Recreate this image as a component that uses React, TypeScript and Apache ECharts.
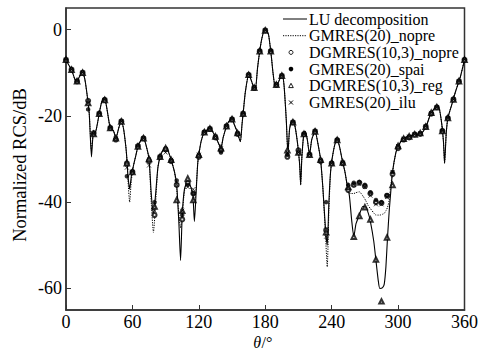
import React, { useEffect, useRef } from "react";
import * as echarts from "echarts";

const SERIES_NAMES = [
  "LU decomposition",
  "GMRES(20)_nopre",
  "DGMRES(10,3)_nopre",
  "GMRES(20)_spai",
  "DGMRES(10,3)_reg",
  "GMRES(20)_ilu",
];

const X_TICKS = [0, 60, 120, 180, 240, 300, 360];
const Y_TICKS = [-60, -40, -20, 0];

const LU_THETA = [
  0, 2, 5, 8, 10, 12, 15, 17, 19, 21,
  23, 24.5, 27, 30, 32, 34, 36, 38, 40, 43,
  45, 48, 50, 52, 54, 55, 56, 57.5, 59, 61,
  63, 65, 68, 70, 72, 75, 77, 79, 81, 83,
  85, 87.5, 90, 92, 95, 98, 100, 102, 103.5, 105,
  107, 110, 112, 114.5, 116, 117.5, 119, 120, 122, 124.5,
  127, 130, 132, 135, 138, 140, 142, 145.5, 148, 150,
  152, 154.5, 157.5, 159, 160.5, 162, 165, 167, 169, 171,
  173, 175, 177, 179.5, 181, 183, 185.5, 187, 189, 191.5,
  194, 195.5, 197, 199, 200.5, 202, 204, 206.5, 209, 211,
  212, 213, 214.5, 216, 218, 220, 222, 225, 228, 230,
  232, 234.5, 236, 237.5, 239, 240.5, 243, 245, 247, 249.5,
  252, 254, 256, 258, 260, 262, 265, 268, 270.5, 273,
  275, 278, 280, 282, 283.5, 286, 287.5, 289, 290.5, 292,
  293, 295, 298, 300.5, 304, 306.5, 310, 314, 318, 322,
  326, 329, 333, 336.5, 339, 341, 342, 343.5, 345, 348.5,
  352, 356, 360,
];

const LU_DB = [
  -7, -8, -9.3, -11.5, -12, -11, -10, -11.5, -15, -19.5,
  -29.5, -24.5, -23.5, -19.5, -17, -15.9, -17, -20, -22.8, -23.5,
  -25.2, -22.5, -21.3, -23, -27, -30, -34, -37, -34, -31.5,
  -29.3, -27.1, -25.5, -25.2, -26.5, -30, -38, -43, -38, -32,
  -29.5, -28, -27.5, -28, -30.2, -33, -36, -45, -53.5, -43,
  -37, -35, -36, -38, -44.5, -38, -31, -29, -26, -24,
  -23.3, -23, -23.5, -24.8, -26.5, -27.5, -25, -22.1, -21, -20.8,
  -22, -23.6, -26, -22, -18.2, -14.5, -10.5, -11.5, -13, -14,
  -9, -5, -2, 0, -0.3, -1.2, -6.2, -10, -13.2, -12.4,
  -11, -10.7, -13, -21, -28.5, -23, -21.3, -22, -26, -31,
  -36, -30, -25, -23.6, -25.5, -29, -25.5, -23.6, -27, -30.2,
  -36.5, -46.5, -50, -40, -33, -29.8, -26.5, -25.6, -27, -30.2,
  -33, -36, -38.5, -44, -48, -45, -43, -41, -41, -42.5,
  -44.5, -49, -53.5, -58, -60, -59.8, -59, -55, -48, -42,
  -38.8, -33, -28.5, -26.8, -25.5, -25, -24.8, -24.4, -24.2, -23.8,
  -22, -19.8, -18.2, -18, -21, -26, -31, -24, -20.5, -17.4,
  -14.3, -11.2, -7,
];

const NOPRE_DB = [
  -7, -8, -9.3, -11.5, -12, -11, -10, -11.5, -15, -19.5,
  -28, -24.5, -23.5, -19.5, -17, -15.9, -17, -20, -22.8, -23.5,
  -25.2, -22.5, -21.3, -23, -27, -30, -35, -40, -35, -31.5,
  -29.3, -27.1, -25.5, -25.2, -26.5, -30, -40, -47, -40, -32,
  -29.5, -28, -27.5, -28, -30.2, -33, -37, -43, -46, -43,
  -37.5, -35, -36, -38.5, -40, -37, -31, -29, -26, -24,
  -23.3, -23, -23.5, -24.8, -26.5, -27.5, -25, -22.1, -21, -20.8,
  -22, -23.6, -26, -22, -18.2, -14.5, -10.5, -11.5, -13, -14,
  -9, -5, -2, 0, -0.3, -1.2, -6.2, -10, -13.2, -12.4,
  -11, -10.7, -13, -21, -29.5, -23, -21.3, -22, -26, -31,
  -36, -30, -25, -23.6, -25.5, -29, -25.5, -23.6, -27, -30.2,
  -36.5, -48, -55, -42, -33, -29.8, -26.5, -25.6, -27, -30.2,
  -33, -36, -38, -38, -38, -37.8, -37.6, -38.5, -39.5, -40.8,
  -41.5, -42.5, -43, -43, -43, -42.8, -42.6, -42, -41.2, -39.5,
  -37, -33, -28.5, -26.8, -25.5, -25, -24.8, -24.4, -24.2, -23.8,
  -22, -19.8, -18.2, -18, -21, -26, -31, -24, -20.5, -17.4,
  -14.3, -11.2, -7,
];

const MARK_THETA = [
  0, 5, 10, 15, 20, 25, 30, 35, 40, 45,
  50, 55, 60, 65, 70, 75, 80, 85, 90, 95,
  100, 105, 110, 115, 120, 125, 130, 135, 140, 145,
  150, 155, 160, 165, 170, 175, 180, 185, 190, 195,
  200, 205, 210, 215, 220, 225, 230, 235, 240, 245,
  250, 255, 260, 265, 270, 275, 280, 285, 290, 295,
  300, 305, 310, 315, 320, 325, 330, 335, 340, 345,
  350, 355, 360,
];

const DG_NOPRE_DB = [
  -7, -9.3, -12, -10, -16.5, -24, -19.5, -16.3, -22.8, -25.5,
  -21.3, -31, -33, -27, -25.2, -30.5, -43, -29.5, -27.8, -30.5,
  -36, -44, -35.5, -38, -29.5, -23.8, -23, -25, -28, -22.4,
  -20.8, -24.2, -19.5, -10.5, -13.5, -5, -0.2, -5, -12.8, -10.7,
  -29.5, -21.5, -28, -24.2, -29, -23.6, -30.5, -46.5, -31, -25.6,
  -31, -37.2, -36, -35.5, -36.3, -38, -40, -40.2, -38.5, -33.5,
  -27.5, -25.5, -25, -24.3, -24.2, -22.5, -19.5, -18, -23.5, -20.5,
  -16.2, -12, -7,
];

const SPAI_DB = [
  -7, -9.3, -12, -10, -18.5, -24.2, -19.5, -16.3, -22.8, -25.2,
  -21.3, -34, -33, -27.1, -25.2, -30, -40, -29.5, -27.5, -30.2,
  -35, -43, -36, -38, -29, -23.8, -23, -24.8, -28.5, -22.4,
  -20.8, -24, -19.5, -10.5, -13.5, -5, -0.2, -5, -12.8, -10.7,
  -29, -21.5, -28.5, -24.2, -29, -23.6, -30.2, -40, -31, -25.6,
  -30.8, -36, -35.5, -35.3, -36, -37.7, -39.5, -40, -38.4, -33,
  -27, -25.3, -24.8, -24.3, -24, -22.5, -19.3, -18, -23.5, -20.5,
  -16.2, -12, -7,
];

const REG_DB = [
  -7, -9.3, -12, -10, -17, -24.2, -19.5, -16.3, -22.8, -25.2,
  -21.3, -31, -33, -27.1, -25.2, -30, -41, -29.5, -27.5, -30.2,
  -39.5, -42, -34.5, -39.5, -29, -23.8, -23, -24.8, -27.5, -22.4,
  -20.8, -24, -19.5, -10.5, -13.5, -5, -0.2, -5, -12.8, -10.7,
  -28, -21.5, -28.5, -24.2, -29, -23.6, -30.2, -47, -31, -25.6,
  -30.8, -36.5, -48, -43.2, -41.2, -44, -53.3, -63, -48.2, -36,
  -27, -25.3, -24.8, -24.3, -24, -22.5, -19.3, -18, -23.5, -20.5,
  -16.2, -12, -7,
];

const ILU_DB = [
  -7, -9.3, -12, -10, -17, -24.2, -19.5, -16.3, -22.8, -25.2,
  -21.3, -32, -33, -27.1, -25.2, -31.5, -42, -29.5, -28.5, -30.2,
  -36, -42, -36.5, -37, -29, -23.8, -23, -24.8, -27.5, -22.4,
  -20.8, -24, -19.5, -10.5, -13.5, -5, -0.2, -5, -12.8, -10.7,
  -28.5, -21.5, -28.5, -24.2, -29, -23.6, -30.2, -48, -31, -25.6,
  -30.8, -36.5, -36, -35.8, -36.5, -38.5, -40.5, -40.5, -38.8, -33,
  -27, -25.3, -24.8, -24.3, -24, -22.5, -19.3, -18, -23.5, -20.5,
  -16.2, -12, -7,
];

const FONT = "Liberation Serif";
const CROSS = "path://M0,0L10,10M10,0L0,10";

const pairs = (xs: number[], ys: number[]) => xs.map((x, i) => [x, ys[i]]);

function buildLegend() {
  const x0 = 283;
  const x1 = 307;
  const mx = 291;
  const tx = 309;
  const y0 = 19;
  const dy = 16.7;
  const els: any[] = [];
  SERIES_NAMES.forEach((name, i) => {
    const y = y0 + i * dy;
    els.push({
      type: "text",
      x: tx,
      y,
      style: {
        text: name,
        fontFamily: FONT,
        fontSize: 16,
        fill: "#000",
        verticalAlign: "middle",
        align: "left",
      },
    });
    if (i === 0) {
      els.push({ type: "line", shape: { x1: x0, y1: y, x2: x1, y2: y }, style: { stroke: "#000", lineWidth: 1 } });
    } else if (i === 1) {
      els.push({
        type: "line",
        shape: { x1: x0, y1: y, x2: x1, y2: y },
        style: { stroke: "#000", lineWidth: 1, lineDash: [1.2, 1.2] },
      });
    } else if (i === 2) {
      els.push({ type: "circle", shape: { cx: mx, cy: y, r: 2 }, style: { fill: "#fff", stroke: "#000", lineWidth: 0.9 } });
    } else if (i === 3) {
      els.push({ type: "circle", shape: { cx: mx, cy: y, r: 2.3 }, style: { fill: "#000" } });
    } else if (i === 4) {
      els.push({
        type: "polygon",
        shape: { points: [[mx, y - 2.5], [mx + 2.3, y + 1.8], [mx - 2.3, y + 1.8]] },
        style: { fill: "#fff", stroke: "#000", lineWidth: 0.9 },
      });
    } else {
      els.push({ type: "line", shape: { x1: mx - 2, y1: y - 2, x2: mx + 2, y2: y + 2 }, style: { stroke: "#000", lineWidth: 1 } });
      els.push({ type: "line", shape: { x1: mx + 2, y1: y - 2, x2: mx - 2, y2: y + 2 }, style: { stroke: "#000", lineWidth: 1 } });
    }
  });
  return els;
}

export default function App() {
  const ref = useRef<HTMLDivElement>(null);
  useEffect(() => {
    document.body.style.margin = "0";
    const chart = echarts.init(ref.current!, null, { renderer: "svg" });
    const axisLineStyle = { color: "#333", width: 1.5 };
    const option: any = {
      animation: false,
      backgroundColor: "#fff",
      textStyle: { fontFamily: FONT },
      grid: {
        left: 66,
        top: 8,
        right: 15,
        bottom: 40,
        show: true,
        borderColor: "#333",
        borderWidth: 1.5,
        backgroundColor: "transparent",
      },
      xAxis: {
        type: "value",
        min: 0,
        max: 360,
        interval: 60,
        axisLine: { show: true, onZero: false, lineStyle: axisLineStyle },
        axisTick: { show: true, inside: true, length: 5, lineStyle: { color: "#333", width: 1 }, customValues: X_TICKS },
        axisLabel: { color: "#000", fontFamily: FONT, fontSize: 18, margin: 3, customValues: X_TICKS },
        splitLine: { show: false },
      },
      yAxis: {
        type: "value",
        min: -65,
        max: 5,
        axisLine: { show: true, onZero: false, lineStyle: axisLineStyle },
        axisTick: { show: true, inside: true, length: 5, lineStyle: { color: "#333", width: 1 }, customValues: Y_TICKS },
        axisLabel: { color: "#000", fontFamily: FONT, fontSize: 18, margin: 4, customValues: Y_TICKS, formatter: (v: number) => String(v) },
        splitLine: { show: false },
      },
      series: [
        {
          name: SERIES_NAMES[0],
          type: "line",
          data: pairs(LU_THETA, LU_DB),
          symbol: "none",
          smooth: 0.2,
          lineStyle: { color: "#000", width: 1.1 },
          z: 2,
        },
        {
          name: SERIES_NAMES[1],
          type: "line",
          data: pairs(LU_THETA, NOPRE_DB),
          symbol: "none",
          smooth: 0.2,
          lineStyle: { color: "#000", width: 1, type: [1.2, 1.2] },
          z: 2,
        },
        {
          name: SERIES_NAMES[2],
          type: "scatter",
          data: pairs(MARK_THETA, DG_NOPRE_DB),
          symbol: "emptyCircle",
          symbolSize: 4,
          itemStyle: { color: "#000", borderColor: "#000", borderWidth: 0.8 },
          z: 3,
        },
        {
          name: SERIES_NAMES[3],
          type: "scatter",
          data: pairs(MARK_THETA, SPAI_DB),
          symbol: "circle",
          symbolSize: 4.5,
          itemStyle: { color: "#000" },
          z: 3,
        },
        {
          name: SERIES_NAMES[4],
          type: "scatter",
          data: pairs(MARK_THETA, REG_DB),
          symbol: "emptyTriangle",
          symbolSize: 4.5,
          itemStyle: { color: "#000", borderColor: "#000", borderWidth: 0.8 },
          z: 3,
        },
        {
          name: SERIES_NAMES[5],
          type: "scatter",
          data: pairs(MARK_THETA, ILU_DB),
          symbol: CROSS,
          symbolSize: 4,
          itemStyle: { color: "#000", borderColor: "#000", borderWidth: 0.9 },
          z: 3,
        },
      ],
      graphic: [
        ...buildLegend(),
        {
          type: "text",
          x: 20,
          y: 165,
          rotation: Math.PI / 2,
          style: {
            text: "Normalized RCS/dB",
            fontFamily: FONT,
            fontSize: 18.5,
            fill: "#000",
            align: "center",
            verticalAlign: "middle",
          },
        },
        {
          type: "text",
          x: 261,
          y: 342,
          style: {
            text: "θ",
            fontFamily: FONT,
            fontStyle: "italic",
            fontSize: 16,
            fill: "#000",
            align: "right",
            verticalAlign: "middle",
          },
        },
        {
          type: "text",
          x: 261.5,
          y: 342,
          style: {
            text: "/°",
            fontFamily: FONT,
            fontSize: 16,
            fill: "#000",
            align: "left",
            verticalAlign: "middle",
          },
        },
      ],
    };
    chart.setOption(option);
    return () => chart.dispose();
  }, []);
  return (
    <div
      ref={ref}
      style={{ width: 481, height: 350, position: "absolute", left: 0, top: 0, background: "#fff" }}
    />
  );
}
